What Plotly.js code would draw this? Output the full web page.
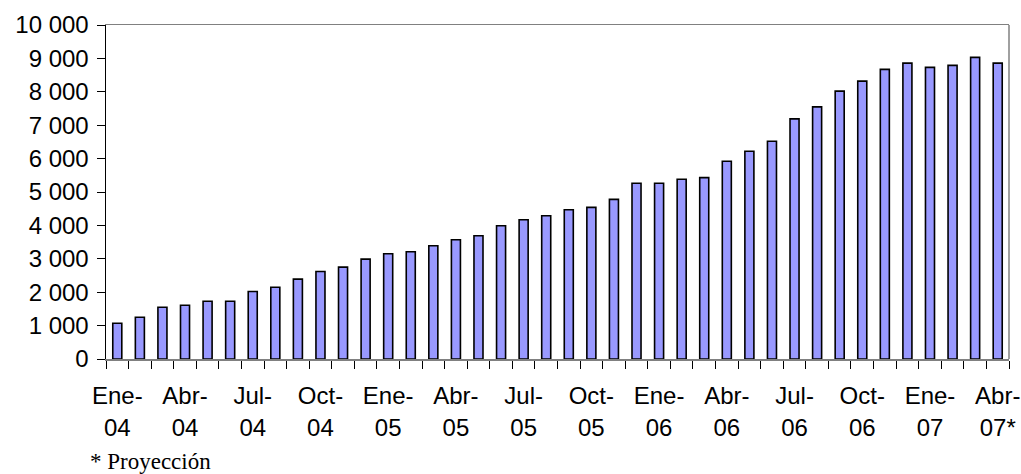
<!DOCTYPE html>
<html>
<head>
<meta charset="utf-8">
<script src="https://cdn.plot.ly/plotly-3.0.1.min.js"></script>
<style>html,body{margin:0;padding:0;background:#fff;}#chart{width:1021px;height:474px;}</style>
</head>
<body>
<div id="chart"></div>
<script>
const months = [
  "Ene-04","Feb-04","Mar-04","Abr-04","May-04","Jun-04","Jul-04","Ago-04","Sep-04","Oct-04","Nov-04","Dic-04",
  "Ene-05","Feb-05","Mar-05","Abr-05","May-05","Jun-05","Jul-05","Ago-05","Sep-05","Oct-05","Nov-05","Dic-05",
  "Ene-06","Feb-06","Mar-06","Abr-06","May-06","Jun-06","Jul-06","Ago-06","Sep-06","Oct-06","Nov-06","Dic-06",
  "Ene-07","Feb-07","Mar-07","Abr-07*"
];
const values = [
  1070,1250,1550,1610,1730,1730,2020,2150,2390,2620,2750,2990,
  3150,3210,3390,3570,3690,3990,4170,4290,4470,4540,4780,5260,
  5260,5380,5430,5920,6220,6520,7190,7550,8020,8320,8670,8860,
  8730,8790,9030,8860
];
const tickLabels = months.map((m, i) => (i % 3 === 0) ? m.replace("-", "-<br>") : "");

const trace = {
  type: "bar",
  x: months,
  y: values,
  marker: {color: "#9999FF", line: {color: "#000000", width: 1.6}},
  hoverinfo: "x+y"
};

const tf = {family: "Liberation Sans, Arial, sans-serif", size: 24, color: "#000"};

const layout = {
  width: 1021, height: 474,
  margin: {l: 106, r: 12, t: 25, b: 115},
  paper_bgcolor: "#ffffff", plot_bgcolor: "#ffffff",
  bargap: 0.6,
  showlegend: false,
  separators: ", ",
  font: tf,
  xaxis: {
    type: "category",
    tickmode: "array", tickvals: months, ticktext: tickLabels,
    tickson: "boundaries",
    ticks: "outside", ticklen: 8, tickcolor: "#000", tickwidth: 1,
    showline: true, linecolor: "#808080", linewidth: 1.5, mirror: true,
    showgrid: false, zeroline: false,
    tickangle: 0, ticklabelstandoff: 15,
    tickfont: tf
  },
  yaxis: {
    range: [0, 10000], dtick: 1000, tick0: 0,
    tickformat: ",d",
    ticks: "outside", ticklen: 8, tickcolor: "#000", tickwidth: 1,
    showline: true, linecolor: "#000", linewidth: 1.5,
    showgrid: false, zeroline: false,
    ticklabelstandoff: 3,
    tickfont: tf
  },
  shapes: [{type: "line", xref: "paper", yref: "paper", x0: 1, x1: 1, y0: 0, y1: 1,
            line: {color: "#808080", width: 1.5}}],
  annotations: [{
    text: "* Proyección", xref: "paper", yref: "paper",
    x: -0.02, y: -0.308, xanchor: "left", yanchor: "middle", showarrow: false,
    font: {family: "Liberation Serif, Times New Roman, serif", size: 23, color: "#000"}
  }]
};

Plotly.newPlot("chart", [trace], layout, {displayModeBar: false, staticPlot: true});
</script>
</body>
</html>
